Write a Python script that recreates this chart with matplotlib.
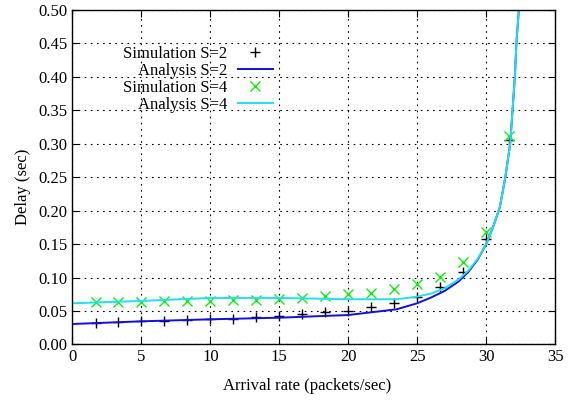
import matplotlib
matplotlib.use('Agg')
import matplotlib.pyplot as plt

plt.rcParams['font.family'] = 'Liberation Serif'
plt.rcParams['font.size'] = 12

# simulation points (arrival rate, delay)
sim_x = [1.67, 3.33, 5.0, 6.67, 8.33, 10.0, 11.67, 13.33, 15.0, 16.67,
         18.33, 20.0, 21.67, 23.33, 25.0, 26.67, 28.33, 30.0, 31.67]
sim_s2 = [0.0325, 0.034, 0.0346, 0.0355, 0.036, 0.0376, 0.0385, 0.0406, 0.043, 0.0455,
          0.048, 0.0505, 0.0565, 0.0624, 0.0714, 0.0854, 0.1087, 0.157, 0.305]
sim_s4 = [0.0639, 0.064, 0.064, 0.065, 0.065, 0.065, 0.066, 0.067, 0.0684, 0.070,
          0.0724, 0.0754, 0.0774, 0.0823, 0.0898, 0.101, 0.1226, 0.168, 0.311]

# analysis curves
ana_x = [0, 5, 10, 15, 20, 23.5, 25, 26, 27, 28, 28.7, 29.4, 30, 30.5, 31, 31.4,
         31.75, 31.92, 32.09, 32.2, 32.38]
ana_s2 = [0.0306, 0.0346, 0.0376, 0.0400, 0.0440, 0.0525, 0.0615, 0.070, 0.080, 0.094,
          0.108, 0.127, 0.1495, 0.175, 0.205, 0.25, 0.30, 0.35, 0.40, 0.45, 0.50]
ana_s4 = [0.0615, 0.065, 0.0695, 0.0695, 0.0675, 0.0675, 0.0714, 0.076, 0.084, 0.097,
          0.110, 0.128, 0.1495, 0.175, 0.205, 0.25, 0.30, 0.35, 0.40, 0.45, 0.50]

fig = plt.figure(figsize=(5.74, 4.01), dpi=100)
ax = fig.add_axes([0.1263, 0.1409, 0.8406, 0.8354])

ax.plot(sim_x, sim_s2, ls='none', marker='+', ms=6.5, mew=1.0, color='black',
        label='Simulation S=2')
ax.plot(ana_x, ana_s2, color='#1010e0', lw=1.4, label='Analysis S=2')
ax.plot(sim_x, sim_s4, ls='none', marker='x', ms=6.5, mew=1.0, color='#10f010',
        label='Simulation S=4')
ax.plot(ana_x, ana_s4, color='#20e0f0', lw=1.4, label='Analysis S=4')

ax.set_xlim(0, 35)
ax.set_ylim(0, 0.5)
ax.set_xticks(range(0, 36, 5))
ax.set_yticks([i * 0.05 for i in range(11)])
ax.yaxis.set_major_formatter(matplotlib.ticker.FormatStrFormatter('%.2f'))
ax.tick_params(direction='in', top=True, right=True, length=5, width=0.8, labelsize=12)
ax.grid(True, color='black', lw=0.8, ls=(0, (1.5, 4)))
for s in ax.spines.values():
    s.set_linewidth(1.0)

ax.set_xlabel('Arrival rate (packets/sec)', fontsize=12)
ax.set_ylabel('Delay (sec)', fontsize=12)
ax.xaxis.set_label_coords(0.487, -0.1)
ax.yaxis.set_label_coords(-0.087, 0.472)

ax.legend(loc='upper right', bbox_to_anchor=(0.432, 0.915), frameon=False,
          markerfirst=False, handlelength=2.1, handletextpad=0.6,
          labelspacing=0.05, borderpad=0, fontsize=12)

fig.savefig('out.png', dpi=100)
